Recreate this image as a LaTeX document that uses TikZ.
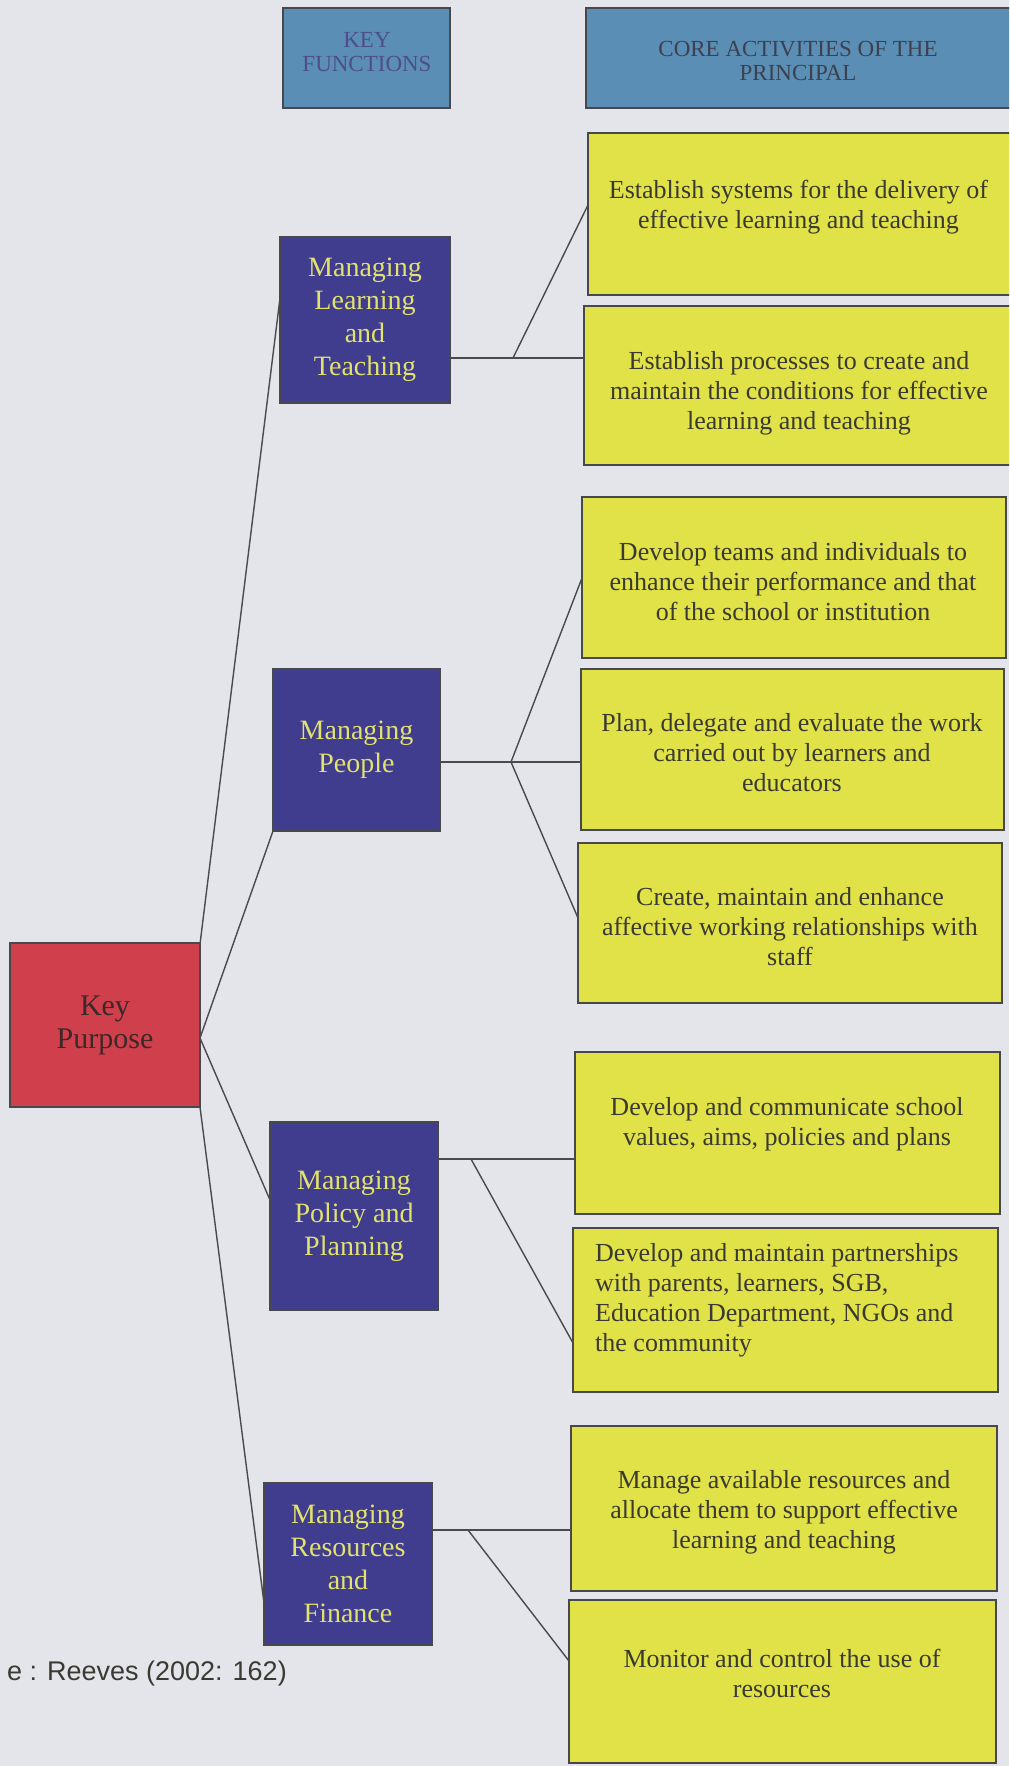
\documentclass[tikz,border=0pt]{standalone}
\usepackage{fontspec}
\setmainfont{Liberation Serif}
\newfontfamily\arialfont{Liberation Sans}
\definecolor{bgcol}{RGB}{227,229,234}
\definecolor{headcol}{RGB}{90,142,180}
\definecolor{yelcol}{RGB}{225,225,72}
\definecolor{bluecol}{RGB}{64,60,142}
\definecolor{bluetxt}{RGB}{226,226,110}
\definecolor{redcol}{RGB}{208,64,76}
\definecolor{redtxt}{RGB}{60,40,40}
\definecolor{edgecol}{RGB}{70,72,76}
\definecolor{linecol}{RGB}{72,74,78}
\definecolor{ytextcol}{RGB}{58,58,50}
\definecolor{keytxt}{RGB}{78,78,140}
\definecolor{coretxt}{RGB}{60,64,80}
\tikzset{
  boxline/.style={draw=edgecol, line width=1.3pt, inner sep=0pt},
  headbox/.style={boxline, fill=headcol},
  yelbox/.style={boxline, fill=yelcol},
  bluebox/.style={boxline, fill=bluecol, text=bluetxt, align=center, font=\fontsize{28}{33}\selectfont},
  redbox/.style={boxline, fill=redcol, text=redtxt, align=center, font=\fontsize{30}{33}\selectfont},
  ytxt/.style={text=ytextcol, align=center, font=\fontsize{26}{30}\selectfont, inner sep=0pt},
  htxt/.style={align=center, font=\fontsize{23}{24}\selectfont, inner sep=0pt},
  conn/.style={draw=linecol, line width=1.4pt},
}
\begin{document}
\begin{tikzpicture}[x=1pt,y=-1pt]
\useasboundingbox (0,0) rectangle (1009,1766);
\clip (0,0) rectangle (1009,1766);
\fill[bgcol] (0,0) rectangle (1009,1766);

% headers
\node[headbox, minimum width=167pt, minimum height=100pt] (h1) at (366.5,58) {};
\node[htxt, text=keytxt] (h1t) at (367,52) {KEY\\FUNCTIONS};
\node[headbox, minimum width=430pt, minimum height=100pt] (h2) at (801,58) {};
\node[htxt, text=coretxt] (h2t) at (798,61) {CORE ACTIVITIES OF THE\\PRINCIPAL};

% key purpose
\node[redbox, minimum width=190pt, minimum height=164pt] (kp) at (105,1025) {Key\\Purpose};

% key functions
\node[bluebox, minimum width=170pt, minimum height=166pt] (b1) at (365,320) {Managing\\Learning\\and\\Teaching};
\node[bluebox, minimum width=167pt, minimum height=162pt] (b2) at (356.5,750) {Managing\\People};
\node[bluebox, minimum width=168pt, minimum height=188pt] (b3) at (354,1216) {Managing\\Policy and\\Planning};
\node[bluebox, minimum width=168pt, minimum height=162pt] (b4) at (348,1564) {Managing\\Resources\\and\\Finance};

% activities
\node[yelbox, minimum width=424pt, minimum height=162pt] (y1) at (800,214) {};
\node[yelbox, minimum width=428pt, minimum height=159pt] (y2) at (798,385.5) {};
\node[yelbox, minimum width=424pt, minimum height=161pt] (y3) at (794,577.5) {};
\node[yelbox, minimum width=423pt, minimum height=161pt] (y4) at (792.5,749.5) {};
\node[yelbox, minimum width=424pt, minimum height=160pt] (y5) at (790,923) {};
\node[yelbox, minimum width=425pt, minimum height=162pt] (y6) at (787.5,1133) {};
\node[yelbox, minimum width=425pt, minimum height=164pt] (y7) at (785.5,1310) {};
\node[yelbox, minimum width=426pt, minimum height=165pt] (y8) at (784,1508.5) {};
\node[yelbox, minimum width=427pt, minimum height=163pt] (y9) at (782.5,1681.5) {};

\node[ytxt] (t1) at (798.5,207) {Establish systems for the delivery of\\effective learning and teaching};
\node[ytxt] (t2) at (799,393) {Establish processes to create and\\maintain the conditions for effective\\learning and teaching};
\node[ytxt] (t3) at (793,582) {Develop teams and individuals to\\enhance their performance and that\\of the school or institution};
\node[ytxt] (t4) at (792,753) {Plan, delegate and evaluate the work\\carried out by learners and\\educators};
\node[ytxt] (t5) at (790,927) {Create, maintain and enhance\\affective working relationships with\\staff};
\node[ytxt] (t6) at (787,1124) {Develop and communicate school\\values, aims, policies and plans};
\node[ytxt, anchor=west, align=left] (t7) at (595,1300) {Develop and maintain partnerships\\with parents, learners, SGB,\\Education Department, NGOs and\\the community};
\node[ytxt] (t8) at (784,1512) {Manage available resources and\\allocate them to support effective\\learning and teaching};
\node[ytxt] (t9) at (782,1673) {Monitor and control the use of\\resources};

% source
\node[anchor=east, inner sep=0pt, text=ytextcol, font={\arialfont\fontsize{27}{30}\selectfont}] (src) at (287,1673) {e : Reeves (2002: 162)};

% connector points
\coordinate (kpa) at (200,944);
\coordinate (kpb) at (200,1038);
\coordinate (kpc) at (200,1107);
\coordinate (b1in) at (280,298);
\coordinate (b2in) at (273,831);
\coordinate (b3in) at (270,1200);
\coordinate (b4in) at (264,1603);

\coordinate (b1out) at (450,358);
\coordinate (j1) at (513,358);
\coordinate (y2in) at (584,358);
\coordinate (y1in) at (588,205);

\coordinate (b2out) at (440,762);
\coordinate (j2) at (511,762);
\coordinate (y4in) at (581,762);
\coordinate (y3in) at (582,578);
\coordinate (y5in) at (578,918);

\coordinate (b3out) at (438,1159);
\coordinate (j3) at (471,1159);
\coordinate (y6in) at (575,1159);
\coordinate (y7in) at (573,1343);

\coordinate (b4out) at (432,1530);
\coordinate (j4) at (468,1530);
\coordinate (y8in) at (571,1530);
\coordinate (y9in) at (569,1661);

% connectors
\draw[conn] (kpa) -- (b1in);
\draw[conn] (kpb) -- (b2in);
\draw[conn] (kpb) -- (b3in);
\draw[conn] (kpc) -- (b4in);

\draw[conn] (b1out) -- (y2in);
\draw[conn] (j1) -- (y1in);

\draw[conn] (b2out) -- (y4in);
\draw[conn] (y3in) -- (j2) -- (y5in);

\draw[conn] (b3out) -- (y6in);
\draw[conn] (j3) -- (y7in);

\draw[conn] (b4out) -- (y8in);
\draw[conn] (j4) -- (y9in);
\end{tikzpicture}
\end{document}
